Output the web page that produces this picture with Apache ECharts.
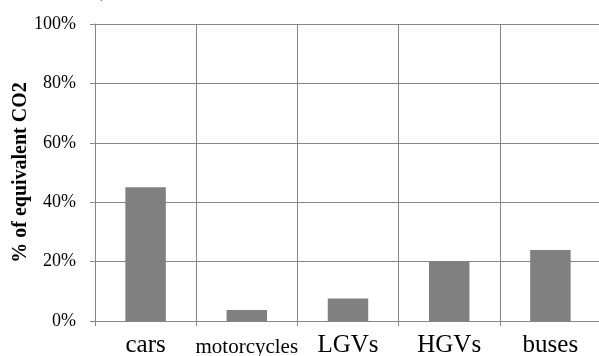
<!DOCTYPE html>
<html>
<head>
<meta charset="utf-8">
<script src="https://cdn.jsdelivr.net/npm/echarts@6/dist/echarts.min.js"></script>
<style>
  html, body { margin: 0; padding: 0; background: #fff; }
  #chart { width: 599px; height: 356px; }
</style>
</head>
<body>
<div id="chart"></div>
<script>
// Vehicle categories and their share of equivalent CO2 (percent)
const categories = ['cars', 'motorcycles', 'LGVs', 'HGVs', 'buses'];
const shares = [45, 3.7, 7.6, 20, 23.9];
const yTicks = [0, 20, 40, 60, 80, 100];

const gridColor = '#878787';
const serif = '"Liberation Serif", "Times New Roman", serif';

const chart = echarts.init(document.getElementById('chart'), null, { renderer: 'canvas' });

chart.setOption({
  animation: false,
  backgroundColor: '#ffffff',
  graphic: [{
    type: 'text',
    x: 114,
    y: -22,
    style: {
      text: 'of the sector).',
      font: '24px ' + serif,
      fill: '#000',
      textAlign: 'right',
      textVerticalAlign: 'top'
    }
  }],
  grid: {
    left: 95, right: -2, top: 24, bottom: 35,
    containLabel: false,
    outerBoundsMode: 'none'
  },
  xAxis: {
    type: 'category',
    data: categories,
    boundaryGap: true,
    axisLine: { lineStyle: { color: gridColor, width: 1 } },
    axisTick: { show: true, length: 5, lineStyle: { color: gridColor } },
    splitLine: { show: true, lineStyle: { color: gridColor, width: 1 } },
    axisLabel: {
      margin: 9,
      interval: 0,
      formatter: function (v) {
        return (v === 'motorcycles' ? '{s|' : '{b|') + v + '}';
      },
      rich: {
        b: { fontFamily: serif, fontSize: 25, color: '#000', lineHeight: 28, verticalAlign: 'bottom' },
        s: { fontFamily: serif, fontSize: 21, color: '#000', lineHeight: 28, verticalAlign: 'bottom' }
      }
    }
  },
  yAxis: {
    type: 'value',
    min: yTicks[0],
    max: yTicks[yTicks.length - 1],
    interval: 20,
    name: '% of equivalent CO2',
    nameLocation: 'middle',
    nameGap: 64,
    nameMoveOverlap: false,
    nameRotate: 90,
    nameTextStyle: { fontFamily: serif, fontSize: 20, fontWeight: 'bold', color: '#000' },
    axisLine: { show: true, lineStyle: { color: gridColor, width: 1 } },
    axisTick: { show: true, length: 5, lineStyle: { color: gridColor } },
    splitLine: { show: true, lineStyle: { color: gridColor, width: 1 } },
    axisLabel: {
      margin: 19,
      color: '#000',
      fontFamily: serif,
      fontSize: 18,
      formatter: '{value}%'
    }
  },
  series: [{
    type: 'bar',
    data: shares,
    barWidth: '40%',
    itemStyle: { color: '#808080' }
  }]
});
</script>
</body>
</html>
